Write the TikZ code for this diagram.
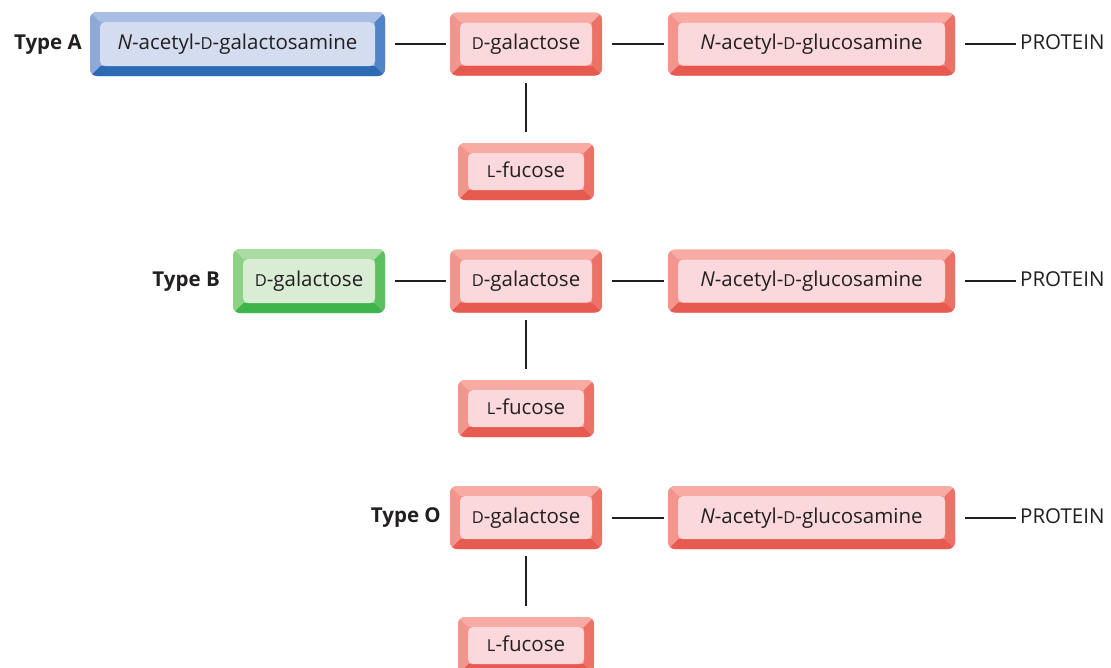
\documentclass[tikz,border=0pt]{standalone}
\usepackage{fontspec}
\setmainfont{Open Sans}
\usetikzlibrary{calc}
\newcommand{\scD}{{\fontsize{16.5}{18}\selectfont D}}
\newcommand{\scL}{{\fontsize{16.5}{18}\selectfont L}}
\definecolor{txt}{HTML}{231F20}
\definecolor{rT}{HTML}{F7ABA2}\definecolor{rL}{HTML}{F3958C}\definecolor{rR}{HTML}{EC7268}\definecolor{rB}{HTML}{E65A50}\definecolor{rI}{HTML}{FBD8DB}
\definecolor{bT}{HTML}{A9BEE4}\definecolor{bL}{HTML}{8EA8D8}\definecolor{bR}{HTML}{4F84C6}\definecolor{bB}{HTML}{2C6AB3}\definecolor{bI}{HTML}{D4DCF0}
\definecolor{gT}{HTML}{A8DCA2}\definecolor{gL}{HTML}{8CD186}\definecolor{gR}{HTML}{5CC060}\definecolor{gB}{HTML}{3DB54A}\definecolor{gI}{HTML}{D9EDD5}
\tikzset{
  bevelbox/.style n args={5}{rectangle, rounded corners=7pt, fill=#2, text=txt,
    font=\fontsize{20.5}{24}\selectfont, inner sep=0pt, text height=15pt, text depth=4pt,
    path picture={
      \coordinate (bvNW) at (path picture bounding box.north west);
      \coordinate (bvNE) at (path picture bounding box.north east);
      \coordinate (bvSE) at (path picture bounding box.south east);
      \coordinate (bvSW) at (path picture bounding box.south west);
      \coordinate (bvnw) at ($(bvNW)+(10pt,-10pt)$);
      \coordinate (bvne) at ($(bvNE)+(-10pt,-10pt)$);
      \coordinate (bvse) at ($(bvSE)+(-10pt,10pt)$);
      \coordinate (bvsw) at ($(bvSW)+(10pt,10pt)$);
      \fill[#1, sharp corners] (bvNW) -- (bvNE) -- (bvne) -- (bvnw) -- cycle;
      \fill[#4, sharp corners] (bvSW) -- (bvSE) -- (bvse) -- (bvsw) -- cycle;
      \fill[#2, sharp corners] (bvNW) -- (bvnw) -- (bvsw) -- (bvSW) -- cycle;
      \fill[#3, sharp corners] (bvNE) -- (bvne) -- (bvse) -- (bvSE) -- cycle;
      \fill[#5, rounded corners=5pt] (bvnw) rectangle (bvse);
    }},
  redbox/.style={bevelbox={rT}{rL}{rR}{rB}{rI}},
  bluebox/.style={bevelbox={bT}{bL}{bR}{bB}{bI}},
  greenbox/.style={bevelbox={gT}{gL}{gR}{gB}{gI}},
  typelabel/.style={anchor=east, inner sep=0pt, text=txt, font=\fontsize{20.5}{24}\selectfont\bfseries, text height=15pt, text depth=4pt},
  prot/.style={anchor=west, inner sep=0pt, text=txt, font=\fontsize{20.5}{24}\selectfont, text height=15pt, text depth=4pt},
  link/.style={draw=txt, line width=2pt, shorten <=10pt, shorten >=4pt},
  vlink/.style={draw=txt, line width=2pt, shorten <=7pt, shorten >=11pt},
}
\begin{document}
\begin{tikzpicture}[x=1pt,y=-1pt]
\useasboundingbox (0,0) rectangle (1111,667);
% Row A
\node[typelabel] (tA) at (82,44) {Type A};
\node[bluebox, minimum width=295pt, minimum height=64pt] (a1) at (237.5,44) {\textit{N}-acetyl-\scD-galactosamine};
\node[redbox, minimum width=152pt, minimum height=63pt] (a2) at (526,44) {\scD-galactose};
\node[redbox, minimum width=287pt, minimum height=63pt] (a3) at (811.5,44) {\textit{N}-acetyl-\scD-glucosamine};
\node[redbox, minimum width=136pt, minimum height=57pt] (a4) at (526,171.5) {\scL-fucose};
\node[prot] (pA) at (1020,44) {PROTEIN};
\draw[link] (a1.east) -- (a2.west);
\draw[link] (a2.east) -- (a3.west);
\draw[link] (a3.east) -- (a3.east -| pA.west);
\draw[vlink] (a2.south) -- (a4.north);
% Row B
\node[typelabel] (tB) at (220,281) {Type B};
\node[greenbox, minimum width=152pt, minimum height=64pt] (b1) at (309,281) {\scD-galactose};
\node[redbox, minimum width=152pt, minimum height=63pt] (b2) at (526,281) {\scD-galactose};
\node[redbox, minimum width=287pt, minimum height=63pt] (b3) at (811.5,281) {\textit{N}-acetyl-\scD-glucosamine};
\node[redbox, minimum width=136pt, minimum height=57pt] (b4) at (526,408.5) {\scL-fucose};
\node[prot] (pB) at (1020,281) {PROTEIN};
\draw[link] (b1.east) -- (b2.west);
\draw[link] (b2.east) -- (b3.west);
\draw[link] (b3.east) -- (b3.east -| pB.west);
\draw[vlink] (b2.south) -- (b4.north);
% Row O
\node[typelabel] (tO) at (441,517) {Type O};
\node[redbox, minimum width=152pt, minimum height=63pt] (o2) at (526,517.5) {\scD-galactose};
\node[redbox, minimum width=287pt, minimum height=63pt] (o3) at (811.5,517.5) {\textit{N}-acetyl-\scD-glucosamine};
\node[redbox, minimum width=136pt, minimum height=57pt] (o4) at (526,645.5) {\scL-fucose};
\node[prot] (pO) at (1020,517.5) {PROTEIN};
\draw[link] (o2.east) -- (o3.west);
\draw[link] (o3.east) -- (o3.east -| pO.west);
\draw[vlink] (o2.south) -- (o4.north);
\end{tikzpicture}
\end{document}
